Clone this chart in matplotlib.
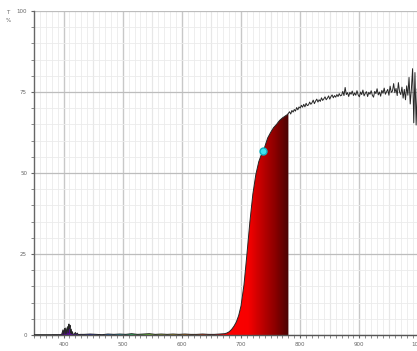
import numpy as np
import matplotlib
matplotlib.use('Agg')
import matplotlib.pyplot as plt
from matplotlib.colors import LinearSegmentedColormap, Normalize
from matplotlib.ticker import MultipleLocator

# transmission spectrum, T % vs wavelength (nm)
# violet bump near 400 nm
wl_violet = [350, 370, 390, 395, 397, 399, 400, 401, 402, 403, 404, 405, 406, 407, 408,
             409, 410, 411, 412, 413, 414, 415, 416, 418, 420, 421, 423, 425, 428]
t_violet = [0.1, 0.1, 0.1, 0.1, 0.3, 1.6, 0.3, 1.4, 2.0, 0.4, 2.2, 0.5, 1.5, 2.6, 0.7,
            3.4, 2.0, 3.0, 0.6, 1.8, 0.4, 1.0, 0.2, 0.3, 0.8, 0.1, 0.6, 0.1, 0.2]

# flat baseline through the visible
wl_base = [435, 445, 455, 465, 475, 485, 495, 505, 515, 525, 535, 545, 555, 565, 575,
           585, 595, 605, 615, 625, 635, 645, 655, 665, 672]
t_base = [0.2, 0.3, 0.2, 0.1, 0.3, 0.2, 0.3, 0.2, 0.4, 0.2, 0.3, 0.4, 0.2, 0.3, 0.2,
          0.3, 0.2, 0.3, 0.2, 0.2, 0.3, 0.2, 0.2, 0.3, 0.4]

# red edge
wl_edge = [676, 680, 684, 688, 692, 696, 700, 705, 710, 715, 720, 725, 730, 735, 740, 745, 750,
           755, 760, 765, 770, 775, 778]
t_edge = [0.6, 1.0, 1.7, 2.7, 4.0, 6.0, 9.0, 15.5, 25.0, 35.0, 43.5, 49.5, 53.5, 56.0, 58.0, 60.8, 62.5,
          64.0, 65.0, 66.2, 67.0, 67.6, 68.0]

# noisy NIR plateau, 780..1000 nm every 2 nm
t_nir = [68.4, 68.9, 68.2, 69.3, 68.8, 69.6, 69.1, 70.2, 69.5, 70.4,
         70.0, 70.9, 70.3, 71.2, 70.4, 71.5, 70.8, 71.0, 71.9, 71.2,
         71.7, 72.5, 71.4, 72.2, 72.8, 71.9, 72.6, 72.1, 73.2, 72.4,
         72.9, 73.5, 72.6, 73.1, 73.8, 72.8, 73.6, 74.1, 73.2, 73.9,
         73.4, 74.2, 73.6, 74.5, 73.8, 74.0, 75.2, 73.9, 76.4, 74.2,
         74.8, 73.6, 74.9, 74.3, 75.3, 73.9, 74.7, 74.0, 75.4, 74.1,
         73.5, 75.0, 74.2, 75.6, 73.8, 74.6, 75.1, 73.6, 74.9, 74.3,
         75.4, 74.0, 73.4, 75.2, 74.5, 76.0, 74.1, 75.0, 73.7, 75.5,
         74.6, 76.2, 74.3, 75.1, 75.8, 74.0, 76.8, 74.9, 75.3, 77.6,
         74.8, 76.1, 73.9, 77.9, 75.0, 74.2, 76.5, 73.1, 75.8, 72.6,
         76.9, 74.0, 79.5, 71.3, 76.0, 82.2, 65.5, 81.0, 64.8, 76.0,
         72.0]
wl_nir = np.arange(780, 1001, 2)

marker_wl = 737.6
marker_t = 56.9

wl = np.concatenate([wl_violet, wl_base, wl_edge, wl_nir])
t = np.concatenate([t_violet, t_base, t_edge, t_nir])

# colour of light, used to paint under the curve up to 780 nm
spec_stops = [(380, '#2a0038'), (400, '#4b0a78'), (415, '#5a10a0'), (430, '#3020c0'),
              (460, '#1040ff'), (495, '#20c0d0'), (520, '#30c040'), (575, '#d0d020'),
              (620, '#ff6000'), (660, '#ff0000'), (712, '#f80000'), (735, '#c00000'),
              (758, '#8a0000'), (780, '#4a0404')]
lo, hi = spec_stops[0][0], spec_stops[-1][0]
cmap = LinearSegmentedColormap.from_list(
    'spec', [((w - lo) / (hi - lo), c) for w, c in spec_stops])

fig = plt.figure(figsize=(4.17, 3.51), dpi=100)
ax = fig.add_axes([34 / 417, 16 / 351, 384.5 / 417, 324 / 351])

# grid: 10 / 50 / 100 nm and 5 / 25 %
ax.xaxis.set_major_locator(MultipleLocator(100))
ax.xaxis.set_minor_locator(MultipleLocator(10))
ax.yaxis.set_major_locator(MultipleLocator(25))
ax.yaxis.set_minor_locator(MultipleLocator(5))
ax.grid(which='minor', color='#ebebeb', lw=0.6, zorder=0)
ax.grid(which='major', axis='y', color='#bdbdbd', lw=0.9, zorder=0)
ax.grid(which='major', axis='x', color='#c8c8c8', lw=1.0, zorder=0)
for v in np.arange(450, 1001, 100):
    ax.axvline(v, color='#d6d6d6', lw=0.8, zorder=0)

# gradient fill under the curve
mask = wl <= 780
poly = ax.fill_between(wl[mask], 0, t[mask], facecolor='none', edgecolor='none')
grad = np.linspace(lo, hi, 800)[None, :]
im = ax.imshow(grad, extent=[lo, hi, 0, 100], aspect='auto', origin='lower',
               cmap=cmap, norm=Normalize(lo, hi), zorder=2, interpolation='bilinear')
im.set_clip_path(poly.get_paths()[0], transform=ax.transData)

ax.plot(wl, t, color='#262626', lw=0.7, zorder=3)
ax.plot(marker_wl, marker_t, 'o', ms=5, mfc='#40e4f0', mec='#10b4c4', mew=1.0, zorder=4)

ax.set_xlim(350, 1000)
ax.set_ylim(0, 100)

for s in ['top', 'right']:
    ax.spines[s].set_visible(False)
ax.spines['left'].set_color('#666666')
ax.spines['bottom'].set_color('#555555')
ax.spines['left'].set_linewidth(1.0)
ax.spines['bottom'].set_linewidth(1.0)

ax.tick_params(which='major', length=2.5, width=0.8, color='#666666',
               labelsize=4, labelcolor='#666666', pad=2.5)
ax.tick_params(which='minor', length=1.8, width=0.6, color='#777777')
ax.tick_params(axis='y', which='minor', length=2.2)

fig.text(8 / 417, 1 - 13 / 351, 'T', fontsize=4, color='#666666', ha='center', va='center')
fig.text(8 / 417, 1 - 20 / 351, '%', fontsize=4, color='#666666', ha='center', va='center')

fig.savefig('out.png', dpi=100)
